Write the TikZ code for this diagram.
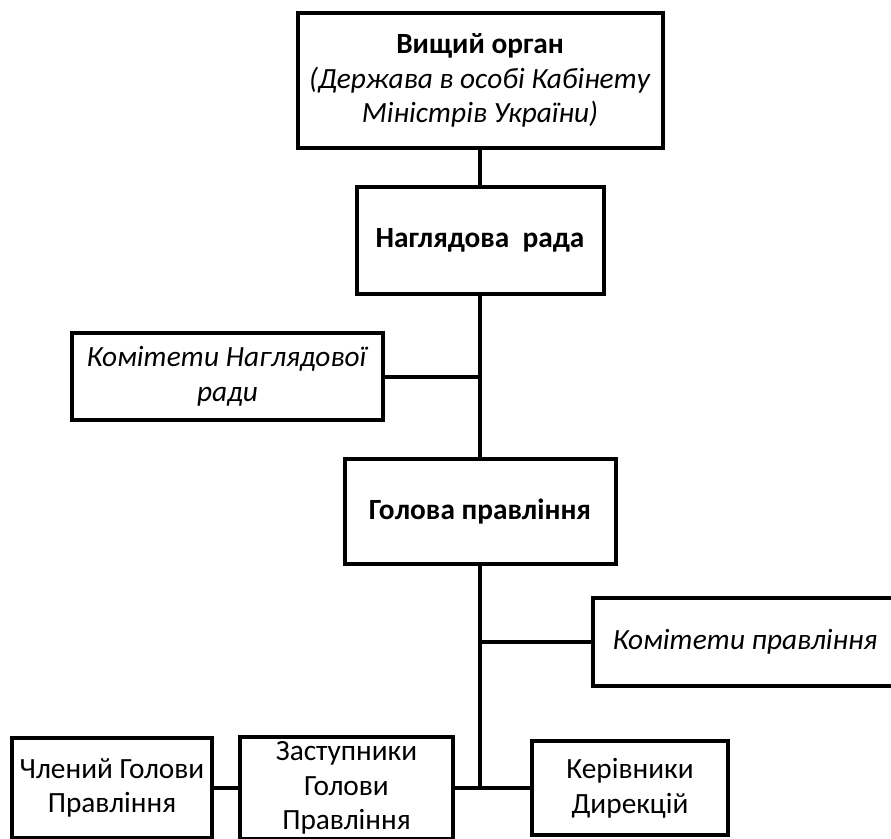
\documentclass[tikz,border=0pt]{standalone}
\usepackage{fontspec}
\setmainfont{Carlito}
\usetikzlibrary{positioning}
\begin{document}
\begin{tikzpicture}[x=0.75pt,y=-0.75pt,
  orgbox/.style={draw=black,line width=3pt,fill=white,inner sep=1pt,
                 align=center,font=\fontsize{22}{26}\selectfont},
  link/.style={draw=black,line width=3pt}]
  \useasboundingbox (0,0) rectangle (891,838);
  \clip (0,0) rectangle (891,838);
  \node[orgbox,minimum width=273.75pt,minimum height=101.25pt] (vyshchyi) at (480,80.5)
    {\textbf{Вищий орган}\\\textit{(Держава в особі Кабінету}\\\textit{Міністрів України)}};
  \node[orgbox,minimum width=185.25pt,minimum height=80.25pt] (rada) at (480,240.5)
    {\textbf{Наглядова\ \ рада}};
  \node[orgbox,minimum width=233.25pt,minimum height=65.25pt] (komrada) at (227.5,376.5)
    {\textit{Комітети Наглядової}\\\textit{ради}};
  \node[orgbox,minimum width=203.25pt,minimum height=78.75pt] (holova) at (480,511.5)
    {\textbf{Голова правління}};
  \node[orgbox,minimum width=228pt,minimum height=66pt] (kompr) at (745,642)
    {\textit{Комітети правління}};
  \node[orgbox,minimum width=150pt,minimum height=75pt] (chlen) at (112,788)
    {Члений Голови\\Правління};
  \node[orgbox,minimum width=159.75pt,minimum height=76.5pt] (zast) at (346.5,788)
    {Заступники\\Голови\\Правління};
  \node[orgbox,minimum width=147pt,minimum height=70.5pt] (kerivn) at (630,788)
    {Керівники\\Дирекцій};
  \draw[link] (vyshchyi.south) -- (rada.north);
  \draw[link] (rada.south) -- (holova.north);
  \draw[link] (komrada.east) -- (komrada.east -| rada.south);
  \draw[link] (holova.south) -- (holova.south |- zast.east);
  \draw[link] (kompr.west) -- (kompr.west -| holova.south);
  \draw[link] (zast.east) -- (kerivn.west);
  \draw[link] (chlen.east) -- (zast.west);
\end{tikzpicture}
\end{document}
